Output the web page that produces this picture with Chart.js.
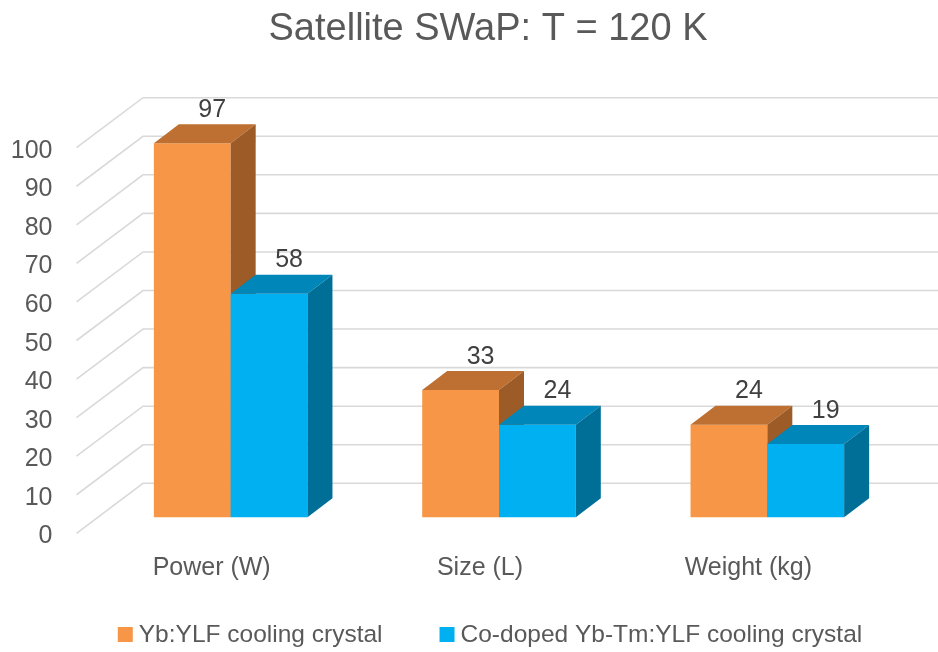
<!DOCTYPE html>
<html>
<head>
<meta charset="utf-8">
<script src="https://cdn.jsdelivr.net/npm/chart.js@4.4.1/dist/chart.umd.min.js"></script>
<style>
  html, body { margin: 0; padding: 0; background: #ffffff; }
  #wrap { width: 938px; height: 652px; position: relative; }
</style>
</head>
<body>
<div id="wrap"><canvas id="chart"></canvas></div>
<script>
// ---- chart content ----
const chartTitle = 'Satellite SWaP: T = 120 K';
const categories = ['Power (W)', 'Size (L)', 'Weight (kg)'];
const seriesNames = ['Yb:YLF cooling crystal', 'Co-doped Yb-Tm:YLF cooling crystal'];
const ybYlf = [97, 33, 24];
const ybTmYlf = [58, 24, 19];
const yTickValues = [0, 10, 20, 30, 40, 50, 60, 70, 80, 90, 100];

// ---- styling ----
const FONT = '"Liberation Sans", Arial, sans-serif';
const TEXT_GREY = '#595959';
const LABEL_GREY = '#404040';
const GRID = '#d9d9d9';
const faces = [
  { front: '#f79646', top: '#bd7031', side: '#9c5b27' },
  { front: '#00b0f0', top: '#0086b8', side: '#006f98' }
];
const BAR_DEPTH = { dx: 25, dy: -19 };     // depth of each 3-D column
const FLOOR_FRONT = { dx: -20, dy: 16 };   // front edge of the floor / side wall
const FLOOR_BACK = { dx: 46.5, dy: -34 };  // back wall plane

function poly(ctx, pts, fill) {
  ctx.beginPath();
  ctx.moveTo(pts[0][0], pts[0][1]);
  for (let i = 1; i < pts.length; i++) ctx.lineTo(pts[i][0], pts[i][1]);
  ctx.closePath();
  ctx.fillStyle = fill;
  ctx.fill();
}

// Walls, gridlines, axis labels and the 3-D columns
const framePlugin = {
  id: 'frame3d',
  beforeDatasetsDraw(chart) {
    const { ctx, chartArea, scales: { x, y } } = chart;
    ctx.save();
    ctx.strokeStyle = GRID;
    ctx.lineWidth = 1.6;
    ctx.font = '25px ' + FONT;
    ctx.textBaseline = 'alphabetic';
    yTickValues.forEach(v => {
      const py = y.getPixelForValue(v);
      const fx = chartArea.left + FLOOR_FRONT.dx, fy = py + FLOOR_FRONT.dy;
      const bx = chartArea.left + FLOOR_BACK.dx, by = py + FLOOR_BACK.dy;
      ctx.beginPath();
      ctx.moveTo(fx, fy);
      ctx.lineTo(bx, by);
      ctx.lineTo(chart.width + 2, by);
      ctx.stroke();
      ctx.fillStyle = TEXT_GREY;
      ctx.textAlign = 'right';
      ctx.fillText(String(v), 52.5, fy + 10);
    });
    categories.forEach((c, i) => {
      const px = x.getPixelForValue(i) + FLOOR_FRONT.dx + 1;
      const py = y.getPixelForValue(0) + FLOOR_FRONT.dy + 42;
      ctx.fillStyle = TEXT_GREY;
      ctx.textAlign = 'center';
      ctx.fillText(c, px, py);
    });

    // columns: front, top and side faces, one category at a time
    const metas = chart.data.datasets.map((d, i) => chart.getDatasetMeta(i));
    categories.forEach((c, i) => {
      metas.forEach((meta, d) => {
        const p = meta.data[i].getProps(['x', 'y', 'base', 'width'], true);
        const l = p.x - p.width / 2, r = p.x + p.width / 2;
        const t = p.y, b = p.base;
        const { dx, dy } = BAR_DEPTH;
        poly(ctx, [[l, t], [r, t], [r, b], [l, b]], faces[d].front);
        poly(ctx, [[l, t], [l + dx, t + dy], [r + dx, t + dy], [r, t]], faces[d].top);
        poly(ctx, [[r, t], [r + dx, t + dy], [r + dx, b + dy], [r, b]], faces[d].side);
      });
    });

    // value labels above each column
    metas.forEach((meta, d) => {
      const values = chart.data.datasets[d].data;
      meta.data.forEach((bar, i) => {
        const p = bar.getProps(['x', 'y'], true);
        ctx.fillStyle = LABEL_GREY;
        ctx.textAlign = 'center';
        ctx.fillText(String(values[i]), p.x + 20, p.y - 26.5);
      });
    });
    ctx.restore();
    return false; // default flat bars are replaced by the 3-D columns above
  },
  afterDraw(chart) {
    const { ctx } = chart;
    const centerX = 490;
    ctx.save();
    ctx.textBaseline = 'alphabetic';
    // title
    ctx.fillStyle = TEXT_GREY;
    ctx.font = '38px ' + FONT;
    ctx.textAlign = 'center';
    ctx.fillText(chartTitle, centerX - 2, 40);
    // legend
    ctx.font = '24.5px ' + FONT;
    const box = 15, gap = 6, spacing = 57;
    const widths = seriesNames.map(s => ctx.measureText(s).width);
    const total = widths.reduce((a, w) => a + box + gap + w, 0) + spacing;
    let lx = centerX - total / 2;
    const baseY = 642;
    ctx.textAlign = 'left';
    seriesNames.forEach((s, i) => {
      ctx.fillStyle = faces[i].front;
      ctx.fillRect(lx, baseY - 15, box, box);
      ctx.fillStyle = TEXT_GREY;
      ctx.fillText(s, lx + box + gap, baseY);
      lx += box + gap + widths[i] + spacing;
    });
    ctx.restore();
  }
};

new Chart(document.getElementById('chart'), {
  type: 'bar',
  data: {
    labels: categories,
    datasets: [
      { label: seriesNames[0], data: ybYlf, backgroundColor: faces[0].front },
      { label: seriesNames[1], data: ybTmYlf, backgroundColor: faces[1].front }
    ]
  },
  options: {
    responsive: true,
    maintainAspectRatio: false,
    animation: false,
    devicePixelRatio: 1,
    categoryPercentage: 0.5724,
    barPercentage: 1,
    layout: { padding: { left: 96.5, right: 36.5, top: 131.7, bottom: 134.7 } },
    scales: {
      x: { display: false },
      y: { display: false, min: 0, max: 100 }
    },
    plugins: { legend: { display: false }, title: { display: false }, tooltip: { enabled: false } }
  },
  plugins: [framePlugin]
});
</script>
</body>
</html>
